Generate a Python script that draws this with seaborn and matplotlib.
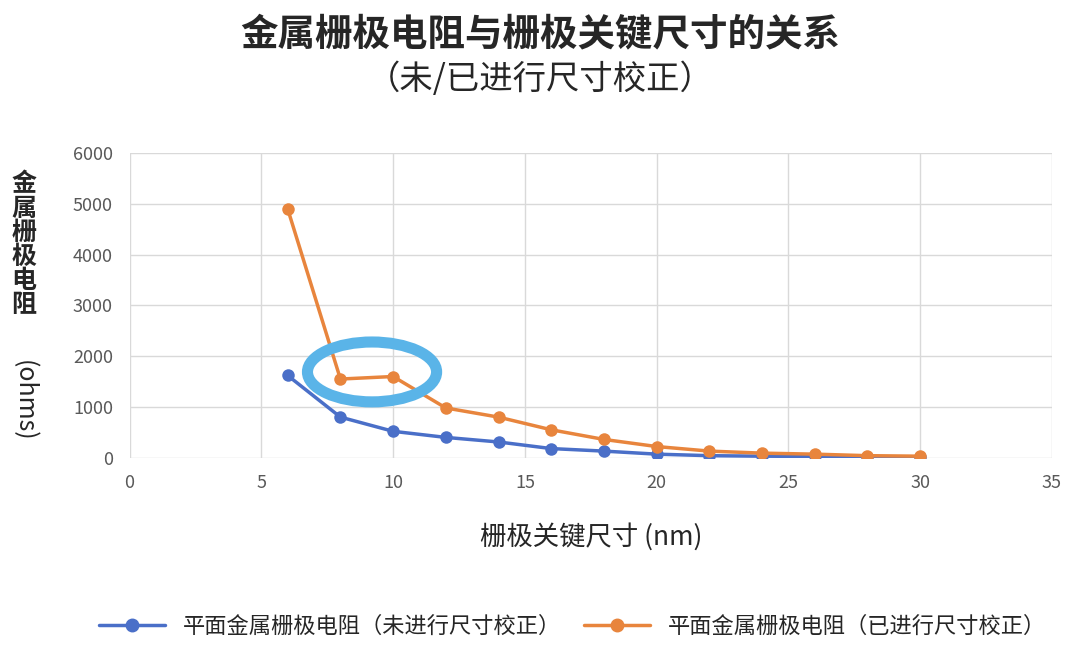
import seaborn as sns
import matplotlib.pyplot as plt
import pandas as pd
from matplotlib.patches import Ellipse
from matplotlib.lines import Line2D

x_nm = [6, 8, 10, 12, 14, 16, 18, 20, 22, 24, 26, 28, 30]
r_uncorrected = [1620, 800, 520, 400, 310, 180, 130, 70, 40, 30, 25, 20, 15]
r_corrected = [4900, 1550, 1600, 980, 800, 550, 360, 220, 130, 90, 70, 40, 30]
labels = ['平面金属栅极电阻（未进行尺寸校正）', '平面金属栅极电阻（已进行尺寸校正）']

df = pd.DataFrame({'x': x_nm * 2,
                   'r': r_uncorrected + r_corrected,
                   's': [labels[0]] * len(x_nm) + [labels[1]] * len(x_nm)})

sns.set_theme(style='white')
plt.rcParams['font.family'] = ['Noto Sans CJK SC', 'DejaVu Sans']

fig = plt.figure(figsize=(10.8, 6.52), dpi=100)
ax = fig.add_axes([0.12, 0.298, 0.854, 0.467])
sns.lineplot(data=df, x='x', y='r', hue='s', palette=['#4a6fc8', '#e8853d'],
             marker='o', markersize=9, markeredgewidth=0, lw=2.5, ax=ax, legend=False)

# annotation ring around the bump
ax.add_patch(Ellipse((9.2, 1690), 4.9, 1180, fill=False, ec='#5ab4e8', lw=8, zorder=5))

ax.set_xlim(0, 35)
ax.set_ylim(0, 6000)
ax.set_xticks(range(0, 36, 5))
ax.set_yticks(range(0, 6001, 1000))
ax.grid(True, color='#d9d9d9', lw=1)
for s in ax.spines.values():
    s.set_visible(False)
ax.tick_params(labelsize=13, colors='#595959', pad=6)

ax.set_xlabel('栅极关键尺寸 (nm)', fontsize=19, labelpad=22)
ax.set_ylabel('')
fig.text(0.022, 0.625, '金\n属\n栅\n极\n电\n阻', fontsize=18, ha='center', va='center',
         linespacing=1.0, fontweight='bold')
fig.text(0.022, 0.385, '(ohms)', fontsize=18, ha='center', va='center', rotation=270)

fig.text(0.5, 0.948, '金属栅极电阻与栅极关键尺寸的关系', fontsize=27, ha='center', va='center',
         fontweight='bold')
fig.text(0.5, 0.878, '（未/已进行尺寸校正）', fontsize=24, ha='center', va='center')

handles = [Line2D([], [], color=c, marker='o', markersize=9, lw=2.5)
           for c in ['#4a6fc8', '#e8853d']]
fig.legend(handles, labels, loc='center', bbox_to_anchor=(0.53, 0.04), ncol=2,
           frameon=False, fontsize=16, handlelength=3, columnspacing=1)

fig.savefig('out.png', dpi=100)
